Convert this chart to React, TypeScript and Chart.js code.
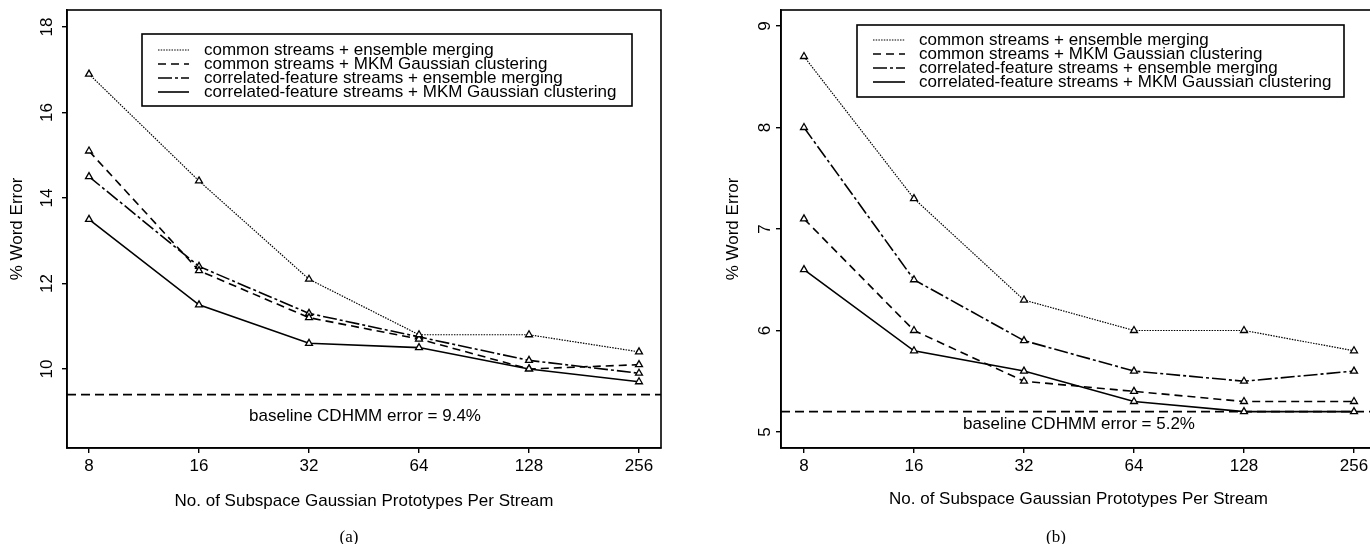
import React, { useEffect, useRef } from 'react';
import { Chart, registerables } from 'chart.js';

Chart.register(...registerables);

// ---------- data ----------
const xLabels = ['8', '16', '32', '64', '128', '256'];
const seriesNames = [
  'common streams + ensemble merging',
  'common streams + MKM Gaussian clustering',
  'correlated-feature streams + ensemble merging',
  'correlated-feature streams + MKM Gaussian clustering',
];
const xTitle = 'No. of Subspace Gaussian Prototypes Per Stream';
const yTitle = '% Word Error';

// panel (a)
const aCommonEnsemble = [16.9, 14.4, 12.1, 10.8, 10.8, 10.4];
const aCommonMKM = [15.1, 12.3, 11.2, 10.7, 10.0, 10.1];
const aCorrEnsemble = [14.5, 12.4, 11.3, 10.75, 10.2, 9.9];
const aCorrMKM = [13.5, 11.5, 10.6, 10.5, 10.0, 9.7];
const aBaseline = 9.4;
const aYTicks = [10, 12, 14, 16, 18];
const aBaselineLabel = 'baseline CDHMM error = 9.4%';

// panel (b)
const bCommonEnsemble = [8.7, 7.3, 6.3, 6.0, 6.0, 5.8];
const bCommonMKM = [7.1, 6.0, 5.5, 5.4, 5.3, 5.3];
const bCorrEnsemble = [8.0, 6.5, 5.9, 5.6, 5.5, 5.6];
const bCorrMKM = [6.6, 5.8, 5.6, 5.3, 5.2, 5.2];
const bBaseline = 5.2;
const bYTicks = [5, 6, 7, 8, 9];
const bBaselineLabel = 'baseline CDHMM error = 5.2%';

// ---------- styles ----------
const FONT = "'Liberation Sans', Arial, Helvetica, sans-serif";
const INK = '#000';
const lineStyles = [
  { dash: [1.5, 1.2], width: 1.2 },
  { dash: [8, 5], width: 1.6 },
  { dash: [14, 3, 3, 3], width: 1.6 },
  { dash: [] as number[], width: 1.6 },
];

type PanelCfg = {
  canvasLeft: number;
  canvasW: number;
  area: { left: number; top: number; right: number; bottom: number };
  xMin: number;
  xMax: number;
  yMin: number;
  yMax: number;
  series: number[][];
  baseline: number;
  baselineLabel: string;
  baselineText: { x: number; y: number };
  yTicks: number[];
  yTickLabelX: number;
  yTitlePad: number;
  xTitlePad: number;
  legend: { x: number; y: number; w: number; h: number; row0: number; rowGap: number; l0: number; l1: number; tx: number };
};

const H = 544;

const panelA: PanelCfg = {
  canvasLeft: 0,
  canvasW: 685,
  area: { left: 67, top: 10, right: 661, bottom: 448 },
  xMin: -0.2,
  xMax: 5.2,
  yMin: 8.15,
  yMax: 18.4,
  series: [aCommonEnsemble, aCommonMKM, aCorrEnsemble, aCorrMKM],
  baseline: aBaseline,
  baselineLabel: aBaselineLabel,
  baselineText: { x: 365, y: 416 },
  yTicks: aYTicks,
  yTickLabelX: 47,
  yTitlePad: 7.3,
  xTitlePad: 32.8,
  legend: { x: 142, y: 34, w: 490, h: 72, row0: 50, rowGap: 14, l0: 158, l1: 189, tx: 204 },
};

const panelB: PanelCfg = {
  canvasLeft: 700,
  canvasW: 700,
  area: { left: 81, top: 10, right: 676, bottom: 448 },
  xMin: -0.209,
  xMax: 5.2,
  yMin: 4.842,
  yMax: 9.158,
  series: [bCommonEnsemble, bCommonMKM, bCorrEnsemble, bCorrMKM],
  baseline: bBaseline,
  baselineLabel: bBaselineLabel,
  baselineText: { x: 379, y: 424 },
  yTicks: bYTicks,
  yTickLabelX: 65,
  yTitlePad: 22.8,
  xTitlePad: 34.8,
  legend: { x: 157, y: 25, w: 487, h: 72, row0: 40, rowGap: 14, l0: 173, l1: 205, tx: 219 },
};

function makeDecor(cfg: PanelCfg) {
  return {
    id: 'decor',
    afterDraw(chart: any) {
      const { ctx, chartArea: a } = chart;
      ctx.save();
      // frame
      ctx.strokeStyle = INK;
      ctx.lineWidth = 1.6;
      ctx.setLineDash([]);
      ctx.strokeRect(a.left, a.top, a.right - a.left, a.bottom - a.top);

      // rotated y tick labels
      const ys = chart.scales.y;
      ctx.fillStyle = INK;
      ctx.font = `17px ${FONT}`;
      ys.ticks.forEach((t: any) => {
        const py = ys.getPixelForValue(t.value);
        ctx.save();
        ctx.translate(cfg.yTickLabelX, py);
        ctx.rotate(-Math.PI / 2);
        ctx.textAlign = 'center';
        ctx.textBaseline = 'middle';
        ctx.fillText(String(t.value), 0, 0);
        ctx.restore();
      });

      // baseline label
      ctx.textAlign = 'center';
      ctx.textBaseline = 'middle';
      ctx.fillText(cfg.baselineLabel, cfg.baselineText.x, cfg.baselineText.y);

      // legend
      const L = cfg.legend;
      ctx.fillStyle = '#fff';
      ctx.fillRect(L.x, L.y, L.w, L.h);
      ctx.strokeStyle = INK;
      ctx.lineWidth = 1.6;
      ctx.strokeRect(L.x, L.y, L.w, L.h);
      seriesNames.forEach((name, i) => {
        const y = L.row0 + i * L.rowGap;
        ctx.beginPath();
        ctx.setLineDash(lineStyles[i].dash);
        ctx.lineWidth = lineStyles[i].width;
        ctx.moveTo(L.l0, y);
        ctx.lineTo(L.l1, y);
        ctx.stroke();
        ctx.setLineDash([]);
        ctx.fillStyle = INK;
        ctx.textAlign = 'left';
        ctx.textBaseline = 'middle';
        ctx.font = `17px ${FONT}`;
        ctx.fillText(name, L.tx, y);
      });
      ctx.restore();
    },
  };
}

function buildChart(canvas: HTMLCanvasElement, cfg: PanelCfg) {
  const datasets: any[] = cfg.series.map((vals, i) => ({
    label: seriesNames[i],
    data: vals.map((y, k) => ({ x: k, y })),
    borderColor: INK,
    borderWidth: lineStyles[i].width,
    borderDash: lineStyles[i].dash,
    pointStyle: 'triangle',
    pointRadius: 4,
    pointBorderWidth: 1.3,
    pointBorderColor: INK,
    pointBackgroundColor: '#fff',
    tension: 0,
    fill: false,
  }));
  datasets.push({
    label: 'baseline',
    data: [
      { x: cfg.xMin, y: cfg.baseline },
      { x: cfg.xMax, y: cfg.baseline },
    ],
    borderColor: INK,
    borderWidth: 1.6,
    borderDash: [9, 5],
    pointRadius: 0,
    fill: false,
  });

  const tickFont = { family: FONT, size: 17 };
  return new Chart(canvas, {
    type: 'line',
    data: { datasets },
    options: {
      responsive: false,
      animation: false,
      events: [],
      layout: {
        padding: { left: 0, top: cfg.area.top, right: cfg.canvasW - cfg.area.right, bottom: 0 },
      },
      plugins: { legend: { display: false }, tooltip: { enabled: false }, title: { display: false } },
      scales: {
        x: {
          type: 'linear',
          min: cfg.xMin,
          max: cfg.xMax,
          afterBuildTicks: (s: any) => {
            s.ticks = xLabels.map((_, i) => ({ value: i }));
          },
          afterFit: (s: any) => {
            s.height = H - cfg.area.bottom;
          },
          ticks: {
            callback: (_v: any, i: number) => xLabels[i],
            font: tickFont,
            color: INK,
            maxRotation: 0,
            minRotation: 0,
            autoSkip: false,
            padding: 3,
          },
          grid: { drawOnChartArea: false, drawTicks: true, tickLength: 5, color: INK, lineWidth: 1.4 },
          border: { display: true, color: INK, width: 1.6 },
          title: {
            display: true,
            text: xTitle,
            color: INK,
            font: { family: FONT, size: 17 },
            padding: { top: 0, bottom: cfg.xTitlePad },
          },
        },
        y: {
          type: 'linear',
          min: cfg.yMin,
          max: cfg.yMax,
          afterBuildTicks: (s: any) => {
            s.ticks = cfg.yTicks.map((v) => ({ value: v }));
          },
          afterFit: (s: any) => {
            s.width = cfg.area.left;
          },
          ticks: { display: false },
          grid: { drawOnChartArea: false, drawTicks: true, tickLength: 5, color: INK, lineWidth: 1.4 },
          border: { display: true, color: INK, width: 1.6 },
          title: {
            display: true,
            text: yTitle,
            color: INK,
            font: { family: FONT, size: 17 },
            padding: { top: cfg.yTitlePad, bottom: 0 },
          },
        },
      },
    } as any,
    plugins: [makeDecor(cfg)],
  });
}

function Panel({ cfg }: { cfg: PanelCfg }) {
  const ref = useRef<HTMLCanvasElement | null>(null);
  useEffect(() => {
    if (!ref.current) return;
    const chart = buildChart(ref.current, cfg);
    return () => chart.destroy();
  }, [cfg]);
  return (
    <canvas
      ref={ref}
      width={cfg.canvasW}
      height={H}
      style={{ position: 'absolute', left: cfg.canvasLeft, top: 0, width: cfg.canvasW, height: H }}
    />
  );
}

const captionStyle: React.CSSProperties = {
  position: 'absolute',
  top: 536,
  transform: 'translate(-50%, -50%)',
  fontFamily: "'Liberation Serif', 'Times New Roman', serif",
  fontSize: 17,
  color: INK,
  lineHeight: '17px',
  whiteSpace: 'nowrap',
};

export default function App() {
  return (
    <div
      style={{
        position: 'fixed',
        left: 0,
        top: 0,
        width: 1370,
        height: H,
        overflow: 'hidden',
        background: '#fff',
      }}
    >
      <Panel cfg={panelA} />
      <Panel cfg={panelB} />
      <div style={{ ...captionStyle, left: 349 }}>(a)</div>
      <div style={{ ...captionStyle, left: 1056 }}>(b)</div>
    </div>
  );
}
